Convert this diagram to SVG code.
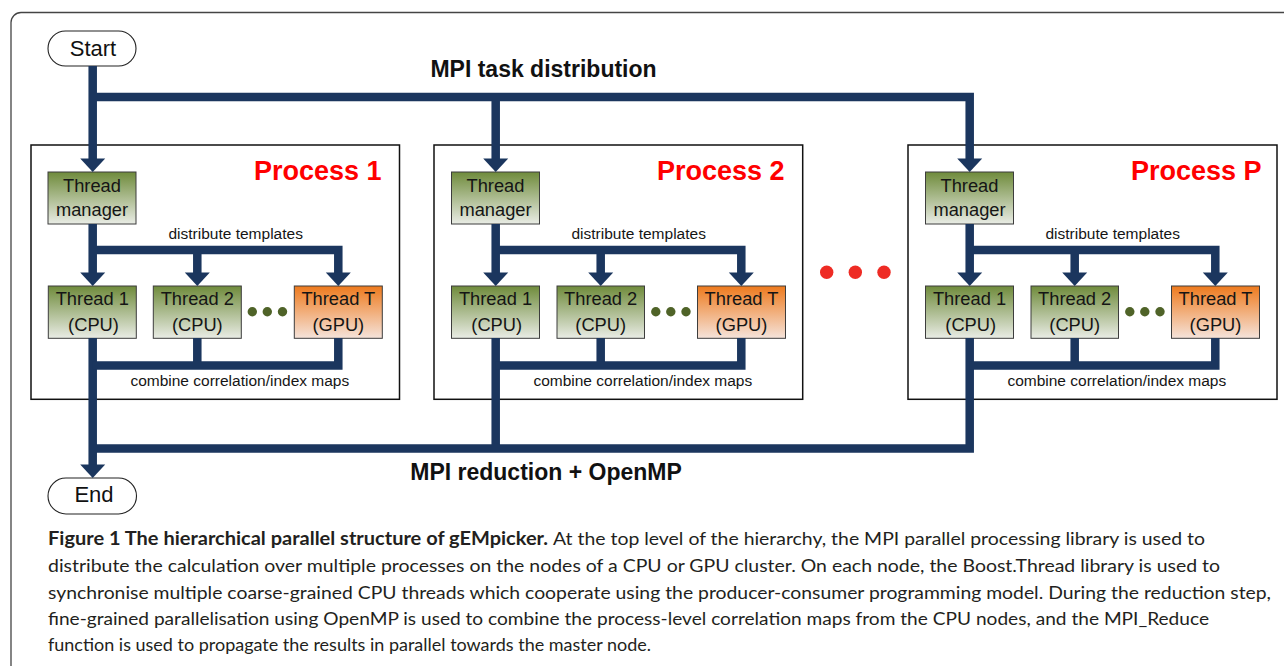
<svg xmlns="http://www.w3.org/2000/svg" width="1284" height="666" viewBox="0 0 1284 666">
<style>
.frame{fill:#fff;stroke:#444;stroke-width:1.3}
.pill{fill:#fff;stroke:#222;stroke-width:1.1}
.pt{font-family:"Liberation Sans",Arial,sans-serif;font-size:22px;fill:#111;text-anchor:middle}
.box{fill:#fff;stroke:#111;stroke-width:1.5}
.ptitle{font-family:"Liberation Sans",Arial,sans-serif;font-size:27px;font-weight:bold;fill:#ff0000}
.tb{stroke:#3d3d3d;stroke-width:1}
.g{fill:url(#gg)}
.o{fill:url(#go)}
.tt{font-family:"Liberation Sans",Arial,sans-serif;font-size:18.3px;fill:#151515;text-anchor:middle}
.sm{font-family:"Liberation Sans",Arial,sans-serif;font-size:15.5px;fill:#151515;text-anchor:middle}
.big{font-family:"Liberation Sans",Arial,sans-serif;font-size:23px;font-weight:bold;fill:#111;text-anchor:middle}
.con{fill:none;stroke:#1b365e;stroke-width:8.5;stroke-linejoin:miter;stroke-linecap:butt}
.gd{fill:#4f6328}
.rd{fill:#ee2b24}
.cap{font-family:Lato,"Open Sans",sans-serif;font-size:18px;fill:#231f20}
.capb{font-family:Lato,"Open Sans",sans-serif;font-size:18px;font-weight:bold;fill:#231f20}
</style>
<defs>
<linearGradient id="gg" x1="0" y1="0" x2="0" y2="1">
<stop offset="0" stop-color="#6f8b3b"/>
<stop offset="1" stop-color="#e9ece5"/>
</linearGradient>
<linearGradient id="go" x1="0" y1="0" x2="0" y2="1">
<stop offset="0" stop-color="#ee7a1d"/>
<stop offset="1" stop-color="#f5e3da"/>
</linearGradient>
<path id="ah" d="M-12.5,-13.5 L12.5,-13.5 L0,0 Z" fill="#1b365e"/>
</defs>

<rect class="frame" x="11" y="12.5" width="1300" height="700" rx="10"/>

<g id="start"><rect class="pill" x="48" y="31" width="88" height="35" rx="17.5"/><text class="pt" x="93" y="55.5">Start</text></g>
<g id="end"><rect class="pill" x="48" y="478" width="88.5" height="36" rx="18"/><text class="pt" x="94" y="501.5">End</text></g>

<g id="process1" transform="translate(31,0)">
<rect class="box" x="0" y="145" width="368.5" height="254.3"/>
<text class="ptitle" x="223" y="180">Process 1</text>
<text class="sm" x="204.7" y="239.3">distribute templates</text>
<text class="sm" x="208.8" y="386">combine correlation/index maps</text>
<circle class="gd" cx="221.3" cy="311.7" r="4.7"/><circle class="gd" cx="236.3" cy="311.7" r="4.7"/><circle class="gd" cx="251.5" cy="311.7" r="4.7"/>
<g id="p1-manager"><rect class="tb g" x="17" y="172" width="88" height="52"/><text class="tt" x="61" y="192">Thread</text><text class="tt" x="61" y="215.5">manager</text></g>
<g id="p1-thread1"><rect class="tb g" x="17.3" y="286" width="88" height="52.3"/><text class="tt" x="61.3" y="305">Thread 1</text><text class="tt" x="62.5" y="330.5">(CPU)</text></g>
<g id="p1-thread2"><rect class="tb g" x="122.3" y="286" width="88" height="52.3"/><text class="tt" x="166.3" y="305">Thread 2</text><text class="tt" x="166.3" y="330.5">(CPU)</text></g>
<g id="p1-threadT"><rect class="tb o" x="263.3" y="286" width="88" height="52.3"/><text class="tt" x="307.3" y="305">Thread T</text><text class="tt" x="307.3" y="330.5">(GPU)</text></g>
</g>

<g id="process2" transform="translate(434,0)">
<rect class="box" x="0" y="145" width="368.7" height="254.3"/>
<text class="ptitle" x="223" y="180">Process 2</text>
<text class="sm" x="204.7" y="239.3">distribute templates</text>
<text class="sm" x="208.8" y="386">combine correlation/index maps</text>
<circle class="gd" cx="221.8" cy="311.7" r="4.7"/><circle class="gd" cx="236.8" cy="311.7" r="4.7"/><circle class="gd" cx="252" cy="311.7" r="4.7"/>
<g id="p2-manager"><rect class="tb g" x="17.5" y="172" width="88" height="52"/><text class="tt" x="61.5" y="192">Thread</text><text class="tt" x="61.5" y="215.5">manager</text></g>
<g id="p2-thread1"><rect class="tb g" x="17.5" y="286" width="88" height="52.3"/><text class="tt" x="61.5" y="305">Thread 1</text><text class="tt" x="62.7" y="330.5">(CPU)</text></g>
<g id="p2-thread2"><rect class="tb g" x="123" y="286" width="87.5" height="52.3"/><text class="tt" x="166.7" y="305">Thread 2</text><text class="tt" x="166.7" y="330.5">(CPU)</text></g>
<g id="p2-threadT"><rect class="tb o" x="263.5" y="286" width="88" height="52.3"/><text class="tt" x="307.5" y="305">Thread T</text><text class="tt" x="307.5" y="330.5">(GPU)</text></g>
</g>

<g id="dots"><circle class="rd" cx="826.7" cy="272.3" r="6.7"/><circle class="rd" cx="855.3" cy="272.3" r="6.7"/><circle class="rd" cx="884" cy="272.3" r="6.7"/></g>

<g id="processP" transform="translate(908,0)">
<rect class="box" x="0" y="145" width="369" height="254.3"/>
<text class="ptitle" x="223" y="180">Process P</text>
<text class="sm" x="204.7" y="239.3">distribute templates</text>
<text class="sm" x="208.8" y="386">combine correlation/index maps</text>
<circle class="gd" cx="221.8" cy="311.7" r="4.7"/><circle class="gd" cx="236.8" cy="311.7" r="4.7"/><circle class="gd" cx="252" cy="311.7" r="4.7"/>
<g id="pP-manager"><rect class="tb g" x="17.5" y="172" width="88" height="52"/><text class="tt" x="61.5" y="192">Thread</text><text class="tt" x="61.5" y="215.5">manager</text></g>
<g id="pP-thread1"><rect class="tb g" x="17.5" y="286" width="88" height="52.3"/><text class="tt" x="61.5" y="305">Thread 1</text><text class="tt" x="62.7" y="330.5">(CPU)</text></g>
<g id="pP-thread2"><rect class="tb g" x="123" y="286" width="87.5" height="52.3"/><text class="tt" x="166.7" y="305">Thread 2</text><text class="tt" x="166.7" y="330.5">(CPU)</text></g>
<g id="pP-threadT"><rect class="tb o" x="263.5" y="286" width="88" height="52.3"/><text class="tt" x="307.5" y="305">Thread T</text><text class="tt" x="307.5" y="330.5">(GPU)</text></g>
</g>

<g id="connectors">
<path class="con" d="M92.7,66 V159.5 M92.7,97 H969.7 V159.5 M495.7,97 V159.5"/>
<use href="#ah" x="92.7" y="172"/><use href="#ah" x="495.7" y="172"/><use href="#ah" x="969.7" y="172"/>
<path class="con" d="M92.7,338 V466.5 M92.7,448.5 H969.7 V338 M495.7,448.5 V338"/>
<use href="#ah" x="92.7" y="478"/>
<g transform="translate(31,0)">
<path class="con" d="M61.7,224 V273 M61.7,250 H307.3 V273 M166.3,250 V273 M307.3,338 V365.5 H61.7 M166.3,338 V365.5"/>
<use href="#ah" x="61.7" y="286"/><use href="#ah" x="166.3" y="286"/><use href="#ah" x="307.3" y="286"/>
</g>
<g transform="translate(434,0)">
<path class="con" d="M61.7,224 V273 M61.7,250 H307.3 V273 M166.7,250 V273 M307.3,338 V365.5 H61.7 M166.7,338 V365.5"/>
<use href="#ah" x="61.7" y="286"/><use href="#ah" x="166.7" y="286"/><use href="#ah" x="307.3" y="286"/>
</g>
<g transform="translate(908,0)">
<path class="con" d="M61.7,224 V273 M61.7,250 H307.3 V273 M166.7,250 V273 M307.3,338 V365.5 H61.7 M166.7,338 V365.5"/>
<use href="#ah" x="61.7" y="286"/><use href="#ah" x="166.7" y="286"/><use href="#ah" x="307.3" y="286"/>
</g>
</g>

<text class="big" x="543.5" y="77.3">MPI task distribution</text>
<text class="big" x="546" y="480">MPI reduction + OpenMP</text>

<g id="caption">
<text class="capb" x="48" y="545" textLength="500" lengthAdjust="spacingAndGlyphs">Figure 1 The hierarchical parallel structure of gEMpicker.</text>
<text class="cap" x="553" y="545" textLength="652" lengthAdjust="spacingAndGlyphs">At the top level of the hierarchy, the MPI parallel processing library is used to</text>
<text class="cap" x="48" y="572" textLength="1172" lengthAdjust="spacingAndGlyphs">distribute the calculation over multiple processes on the nodes of a CPU or GPU cluster. On each node, the Boost.Thread library is used to</text>
<text class="cap" x="48" y="599" textLength="1223" lengthAdjust="spacingAndGlyphs">synchronise multiple coarse-grained CPU threads which cooperate using the producer-consumer programming model. During the reduction step,</text>
<text class="cap" x="48" y="625" textLength="1161" lengthAdjust="spacingAndGlyphs">fine-grained parallelisation using OpenMP is used to combine the process-level correlation maps from the CPU nodes, and the MPI_Reduce</text>
<text class="cap" x="48" y="651" textLength="603" lengthAdjust="spacingAndGlyphs">function is used to propagate the results in parallel towards the master node.</text>
</g>
</svg>
